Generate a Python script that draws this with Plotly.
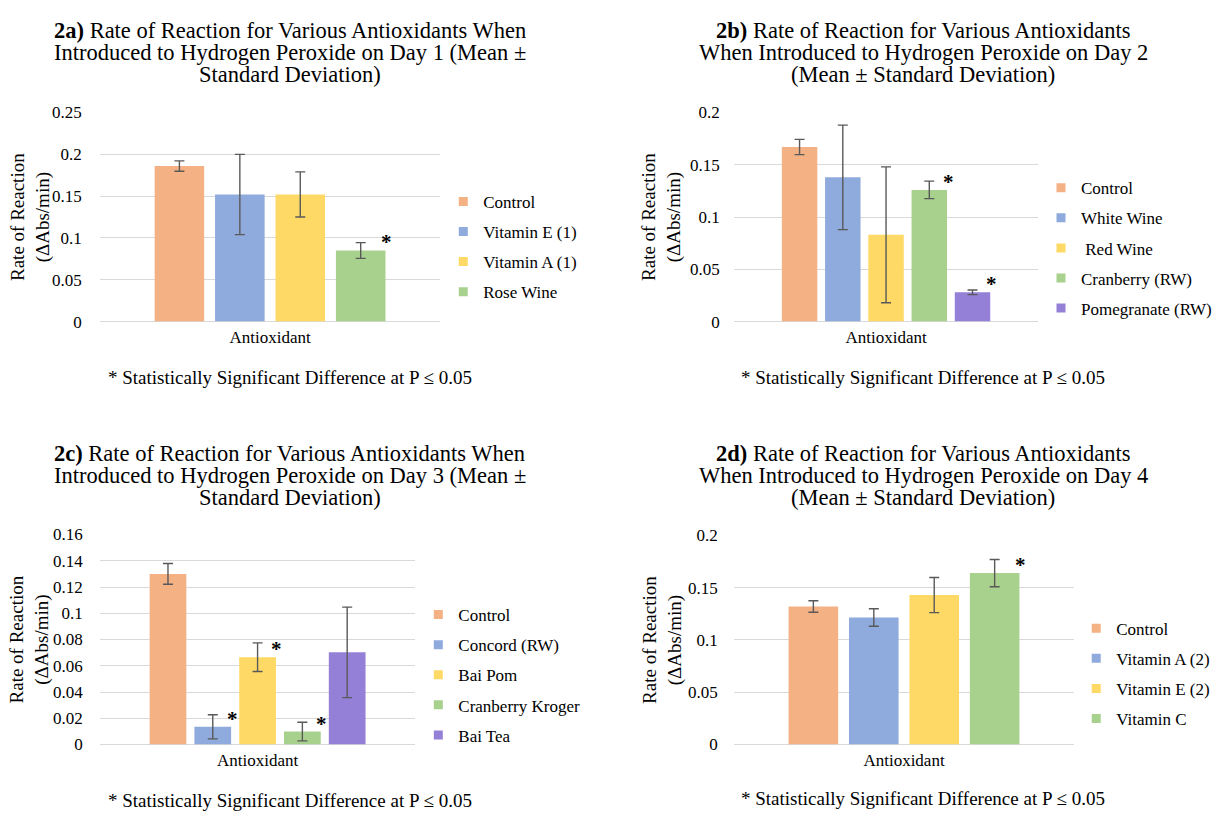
import plotly.graph_objects as go

W, H = 1217, 818
FONT = "Liberation Serif"
CATEGORY = "Antioxidant"
FOOTNOTE = "* Statistically Significant Difference at P \u2264 0.05"
YTITLE = "Rate of Reaction<br>(\u0394Abs/min)"

# ---------------- data ----------------
names_a = ["Control", "Vitamin E (1)", "Vitamin A (1)", "Rose Wine"]
means_a = [0.186, 0.152, 0.152, 0.085]
sd_a = [0.0062, 0.048, 0.027, 0.0094]
sig_a = [False, False, False, True]

names_b = ["Control", "White Wine", " Red Wine", "Cranberry (RW)", "Pomegranate (RW)"]
means_b = [0.167, 0.138, 0.083, 0.126, 0.028]
sd_b = [0.0073, 0.050, 0.065, 0.0084, 0.0022]
sig_b = [False, False, False, True, True]

names_c = ["Control", "Concord (RW)", "Bai Pom", "Cranberry Kroger", "Bai Tea"]
means_c = [0.130, 0.0135, 0.0665, 0.0099, 0.0702]
sd_c = [0.0079, 0.0092, 0.0109, 0.0071, 0.0345]
sig_c = [False, True, True, True, False]

names_d = ["Control", "Vitamin A (2)", "Vitamin E (2)", "Vitamin C"]
means_d = [0.132, 0.1215, 0.143, 0.164]
sd_d = [0.0055, 0.0084, 0.0168, 0.013]
sig_d = [False, False, False, True]

titles_a = ["<b>2a)</b> Rate of Reaction for Various Antioxidants When",
            "Introduced to Hydrogen Peroxide on Day 1 (Mean \u00b1",
            "Standard Deviation)"]
titles_b = ["<b>2b)</b> Rate of Reaction for Various Antioxidants",
            "When Introduced to Hydrogen Peroxide on Day 2",
            "(Mean \u00b1 Standard Deviation)"]
titles_c = ["<b>2c)</b> Rate of Reaction for Various Antioxidants When",
            "Introduced to Hydrogen Peroxide on Day 3 (Mean \u00b1",
            "Standard Deviation)"]
titles_d = ["<b>2d)</b> Rate of Reaction for Various Antioxidants",
            "When Introduced to Hydrogen Peroxide on Day 4",
            "(Mean \u00b1 Standard Deviation)"]

y_max = [0.25, 0.2, 0.16, 0.2]
y_dtick = [0.05, 0.05, 0.02, 0.05]

# ---------------- style / layout (pixels) ----------------
COLORS = ["#F4B183", "#8FAADC", "#FFD966", "#A9D18E", "#9580D8"]
ERR_COLOR = "#595959"
GRID = "#D9D9D9"
BARGAP = 0.29
GROUPGAP = 0.18

layout_px = [
    dict(x0=100, x1=441, y0=320, y1=106, cx=290, ty=[22, 45, 67], fy=377, ytx=30,
         lx=444, ly=179, standoff=17),
    dict(x0=735, x1=1040, y0=320, y1=106, cx=925, ty=[22, 45, 67], fy=377, ytx=662,
         lx=1043, ly=165, standoff=13),
    dict(x0=100, x1=416, y0=753, y1=538, cx=290, ty=[455, 478, 500], fy=810, ytx=30,
         lx=419, ly=602, standoff=16),
    dict(x0=735, x1=1076, y0=753, y1=539, cx=925, ty=[455, 478, 500], fy=808, ytx=664,
         lx=1078, ly=616, standoff=15),
]

panels = [
    (names_a, means_a, sd_a, sig_a, titles_a),
    (names_b, means_b, sd_b, sig_b, titles_b),
    (names_c, means_c, sd_c, sig_c, titles_c),
    (names_d, means_d, sd_d, sig_d, titles_d),
]

fig = go.Figure()
annotations = []
layout_upd = {}

for k, ((names, means, sds, sigs, titles), L) in enumerate(zip(panels, layout_px)):
    suf = "" if k == 0 else str(k + 1)
    xa, ya = "x" + suf, "y" + suf
    leg = "legend" + suf
    n = len(names)
    for i in range(n):
        fig.add_bar(
            x=[CATEGORY], y=[means[i]], name=names[i],
            marker=dict(color=COLORS[i], line=dict(width=0)),
            error_y=dict(type="data", array=[sds[i]], visible=True,
                         color=ERR_COLOR, thickness=1.4, width=5),
            xaxis=xa, yaxis=ya, showlegend=False, hoverinfo="skip",
        )
        # legend-only entry with a small square swatch
        fig.add_scatter(
            x=[None], y=[None], mode="markers", name=names[i],
            marker=dict(symbol="square", size=9, color=COLORS[i]),
            xaxis=xa, yaxis=ya, legend=leg, legendgroup=f"g{k}_{i}", showlegend=True,
        )
    # axes
    xdom = [L["x0"] / W, L["x1"] / W]
    ydom = [1 - L["y0"] / H, 1 - L["y1"] / H]
    layout_upd["xaxis" + suf] = dict(
        domain=xdom, type="category", showgrid=False, zeroline=False, showline=False,
        ticks="", tickfont=dict(family=FONT, size=17, color="#000"),
        ticklabelstandoff=3, anchor=ya, fixedrange=True,
    )
    layout_upd["yaxis" + suf] = dict(
        domain=ydom, range=[0, y_max[k]], dtick=y_dtick[k], tick0=0,
        showgrid=True, gridcolor=GRID, gridwidth=1, zeroline=True, zerolinecolor=GRID,
        zerolinewidth=1, showline=False, ticks="",
        tickfont=dict(family=FONT, size=17, color="#000"),
        ticklabelstandoff=L["standoff"], anchor=xa, fixedrange=True,
    )
    layout_upd[leg] = dict(
        x=L["lx"] / W, y=1 - L["ly"] / H, xanchor="left", yanchor="top",
        font=dict(family=FONT, size=17, color="#000"), bgcolor="rgba(0,0,0,0)",
        traceorder="grouped", itemwidth=30, tracegroupgap=5,
    )
    # title lines
    for j, t in enumerate(titles):
        annotations.append(dict(
            text=t, x=L["cx"] / W, y=1 - L["ty"][j] / H, xref="paper", yref="paper",
            xanchor="center", yanchor="middle", showarrow=False,
            font=dict(family=FONT, size=22.5, color="#000"),
        ))
    # footnote
    annotations.append(dict(
        text=FOOTNOTE, x=L["cx"] / W, y=1 - L["fy"] / H, xref="paper", yref="paper",
        xanchor="center", yanchor="middle", showarrow=False,
        font=dict(family=FONT, size=19, color="#000"),
    ))
    # y-axis title
    annotations.append(dict(
        text=YTITLE, x=L["ytx"] / W, y=(ydom[0] + ydom[1]) / 2, xref="paper", yref="paper",
        xanchor="center", yanchor="middle", showarrow=False, textangle=-90,
        font=dict(family=FONT, size=19, color="#000"),
    ))
    # significance asterisks at top-right corner of bars
    wpx = L["x1"] - L["x0"]
    group = (1 - BARGAP) * wpx
    slot = group / n
    bw = slot * (1 - GROUPGAP)
    for i in range(n):
        if sigs[i]:
            right = -group / 2 + slot * (i + 0.5) + bw / 2
            annotations.append(dict(
                text="<b>*</b>", x=CATEGORY, y=means[i], xref=xa, yref=ya,
                xanchor="center", yanchor="middle", xshift=right + 1, yshift=8,
                showarrow=False, font=dict(family=FONT, size=21, color="#000"),
            ))

fig.update_layout(
    width=W, height=H, margin=dict(l=0, r=0, t=0, b=0),
    paper_bgcolor="white", plot_bgcolor="white",
    barmode="group", bargap=BARGAP, bargroupgap=GROUPGAP,
    annotations=annotations, font=dict(family=FONT), **layout_upd,
)

fig.write_html(
    "out.html",
    config={"displayModeBar": False, "staticPlot": False},
    post_script="document.body.style.margin='0';document.body.style.overflow='hidden';",
)
